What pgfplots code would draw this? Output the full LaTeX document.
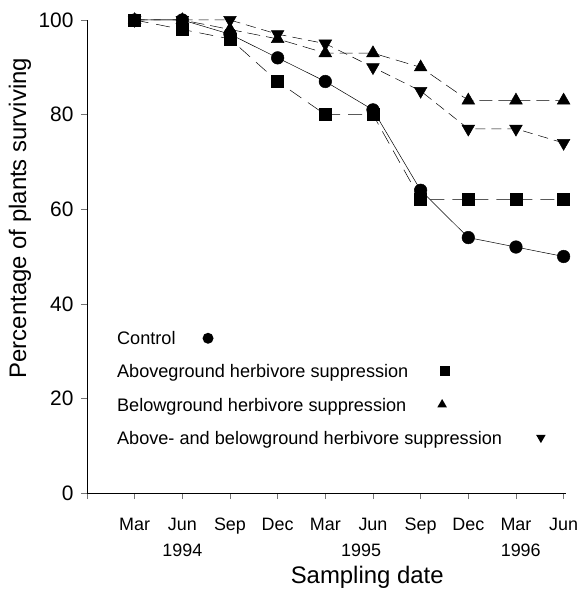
\documentclass[border=0pt]{standalone}
\usepackage{fontspec}
\setmainfont{Liberation Sans}
\usepackage{pgfplots}
\pgfplotsset{compat=1.18}
\begin{document}
\begin{tikzpicture}
\begin{axis}[
  name=ax,
  scale only axis,
  width=479bp, height=473bp,
  xmin=-1, xmax=9.05, ymin=0, ymax=100,
  clip=false,
  axis lines*=left,
  axis line style={black, line width=0.7pt},
  tick style={black!55, line width=0.6pt},
  tick align=outside,
  major tick length=6bp,
  xtick={-1,0,1,2,3,4,5,6,7,8,9},
  xticklabels={,Mar,Jun,Sep,Dec,Mar,Jun,Sep,Dec,Mar,Jun},
  ytick={0,20,40,60,80,100},
  /pgf/number format/assume math mode=true,
  xticklabel style={font=\fontsize{18}{20}\selectfont, text height=13bp, text depth=0bp, anchor=north, yshift=-15bp},
  yticklabel style={font=\fontsize{21}{24}\selectfont, xshift=-4bp},
  every axis x label/.style={at={(axis description cs:0.585,0)}, anchor=center, yshift=-84bp, font=\fontsize{24}{28}\selectfont},
  every axis y label/.style={at={(axis description cs:0,0.581)}, rotate=90, anchor=center, yshift=67bp, font=\fontsize{24}{28}\selectfont},
  xlabel={Sampling date},
  ylabel={Percentage of plants surviving},
  legend plot pos=none,
  legend cell align=left,
  legend style={at={(axis description cs:0.052,0.35)}, anchor=north west, draw=none, fill=none,
    font=\fontsize{18.2}{22}\selectfont, row sep=14.5bp},
]
\addplot[black, line width=0.5pt, mark=*, mark size=6.3bp, mark options={solid}]
  coordinates {(0,100) (1,100) (2,97) (3,92) (4,87) (5,81) (6,64) (7,54) (8,52) (9,50)};
\addplot[black, line width=0.5pt, dash pattern=on 14bp off 8bp, mark=square*, mark size=6bp, mark options={solid}]
  coordinates {(0,100) (1,98) (2,96) (3,87) (4,80) (5,80) (6,62) (7,62) (8,62) (9,62)};
\addplot[black, line width=0.5pt, dash pattern=on 13bp off 6bp, mark=triangle*, mark size=7.3bp, mark options={solid}]
  coordinates {(0,100) (1,100) (2,98) (3,96) (4,93) (5,93) (6,90) (7,83) (8,83) (9,83)};
\addplot[black, line width=0.5pt, dash pattern=on 10bp off 6bp, mark=triangle*, mark size=7.3bp, mark options={solid, rotate=180}]
  coordinates {(0,100) (1,100) (2,100) (3,97) (4,95) (5,90) (6,85) (7,77) (8,77) (9,74)};
\legend{
  {Control\hspace{27bp}\tikz[baseline=-6.5bp]\fill (0,0) circle (5.5bp);},
  {Aboveground herbivore suppression\hspace{32bp}\tikz[baseline=-6.5bp]\fill (-5bp,-5bp) rectangle (5bp,5bp);},
  {Belowground herbivore suppression\hspace{31bp}\tikz[baseline=-6.5bp]\fill (90:5.5bp) -- (210:5.5bp) -- (330:5.5bp) -- cycle;},
  {Above- and belowground herbivore suppression\hspace{34bp}\tikz[baseline=-6.5bp]\fill (270:5.5bp) -- (30:5.5bp) -- (150:5.5bp) -- cycle;}
}
\node[font=\fontsize{18}{20}\selectfont] at (axis cs:1,0) [yshift=-57bp] {1994};
\node[font=\fontsize{18}{20}\selectfont] at (axis cs:4.75,0) [yshift=-57bp] {1995};
\node[font=\fontsize{18}{20}\selectfont] at (axis cs:8.1,0) [yshift=-57bp] {1996};
\end{axis}
\pgfresetboundingbox
\path (ax.south west) ++(-87bp,-101bp) rectangle ++(579bp,594bp);
\end{tikzpicture}
\end{document}
